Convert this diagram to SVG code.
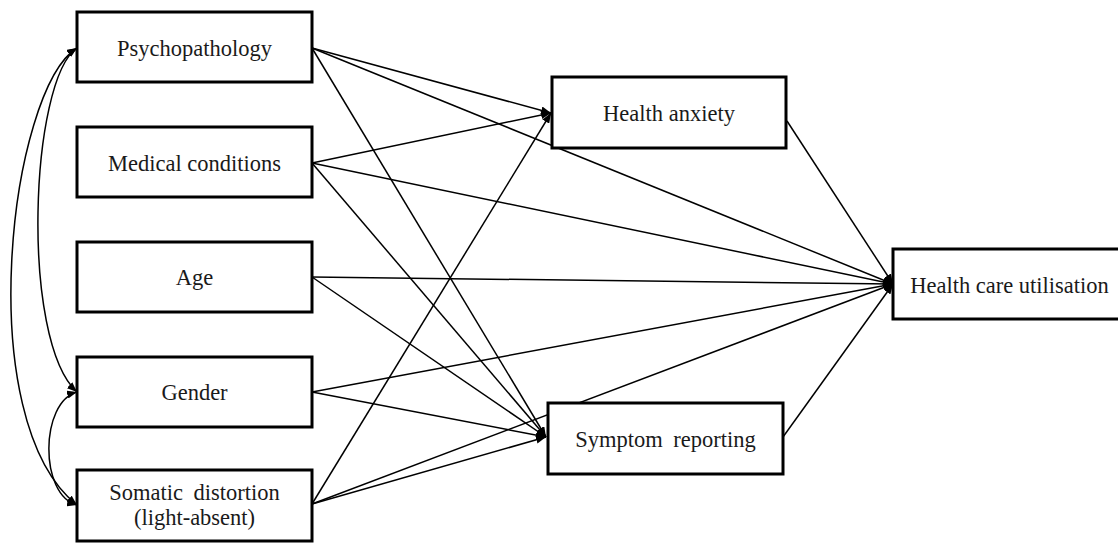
<svg xmlns="http://www.w3.org/2000/svg" width="1118" height="543" viewBox="0 0 1118 543">
<defs>
<style>
.box{fill:#fff;stroke:#000;stroke-width:3}
.lbl{font-family:"Liberation Serif","Times New Roman",serif;font-size:22.5px;fill:#1a1a1a;text-anchor:middle}
.ln{fill:none;stroke:#000;stroke-width:1.5}
</style>
<marker id="ah" viewBox="0 0 10 8" refX="10" refY="4" markerWidth="10" markerHeight="8" markerUnits="userSpaceOnUse" orient="auto-start-reverse">
<path d="M0,0 L10,4 L0,8 z" fill="#000"/>
</marker>
</defs>
<g id="connectors">
<path class="ln" marker-end="url(#ah)" d="M312,48 L551,113"/>
<path class="ln" marker-end="url(#ah)" d="M312,48 L893,284"/>
<path class="ln" marker-end="url(#ah)" d="M312,48 L546,437"/>
<path class="ln" marker-end="url(#ah)" d="M312,163 L551,113"/>
<path class="ln" marker-end="url(#ah)" d="M312,163 L893,284"/>
<path class="ln" marker-end="url(#ah)" d="M312,163 L546,437"/>
<path class="ln" marker-end="url(#ah)" d="M312,277 L893,284"/>
<path class="ln" marker-end="url(#ah)" d="M312,277 L546,437"/>
<path class="ln" marker-end="url(#ah)" d="M312,392 L893,284"/>
<path class="ln" marker-end="url(#ah)" d="M312,392 L546,437"/>
<path class="ln" marker-end="url(#ah)" d="M312,504 L551,113"/>
<path class="ln" marker-end="url(#ah)" d="M312,504 L893,284"/>
<path class="ln" marker-end="url(#ah)" d="M312,504 L546,437"/>
<path class="ln" marker-end="url(#ah)" d="M787,121 L893,284"/>
<path class="ln" marker-end="url(#ah)" d="M783,437 L893,284"/>
<path class="ln" marker-start="url(#ah)" marker-end="url(#ah)" d="M77,48 C10,90 -30,420 77,505"/>
<path class="ln" marker-start="url(#ah)" marker-end="url(#ah)" d="M77,48 C30,80 20,340 77,392"/>
<path class="ln" marker-start="url(#ah)" marker-end="url(#ah)" d="M77,392 C40,402 39,495 77,505"/>
</g>
<g id="psychopathology"><rect class="box" x="77" y="12" width="235" height="70"/><text class="lbl" x="194.5" y="55.5">Psychopathology</text></g>
<g id="medical"><rect class="box" x="77" y="127" width="235" height="70"/><text class="lbl" x="194.5" y="170.5">Medical conditions</text></g>
<g id="age"><rect class="box" x="77" y="242" width="235" height="70"/><text class="lbl" x="194.5" y="285">Age</text></g>
<g id="gender"><rect class="box" x="77" y="357" width="235" height="70"/><text class="lbl" x="194.5" y="400">Gender</text></g>
<g id="somatic"><rect class="box" x="77" y="470" width="235" height="71"/><text class="lbl" x="194.5" y="500" word-spacing="5">Somatic distortion</text><text class="lbl" x="194.5" y="525">(light-absent)</text></g>
<g id="health-anxiety"><rect class="box" x="552" y="77" width="234" height="71"/><text class="lbl" x="669" y="121">Health anxiety</text></g>
<g id="symptom-reporting"><rect class="box" x="548" y="403" width="235" height="71"/><text class="lbl" x="665.5" y="446.5" word-spacing="5">Symptom reporting</text></g>
<g id="hcu"><rect class="box" x="893" y="249" width="235" height="70"/><text class="lbl" x="1009.5" y="292.5">Health care utilisation</text></g>
</svg>
